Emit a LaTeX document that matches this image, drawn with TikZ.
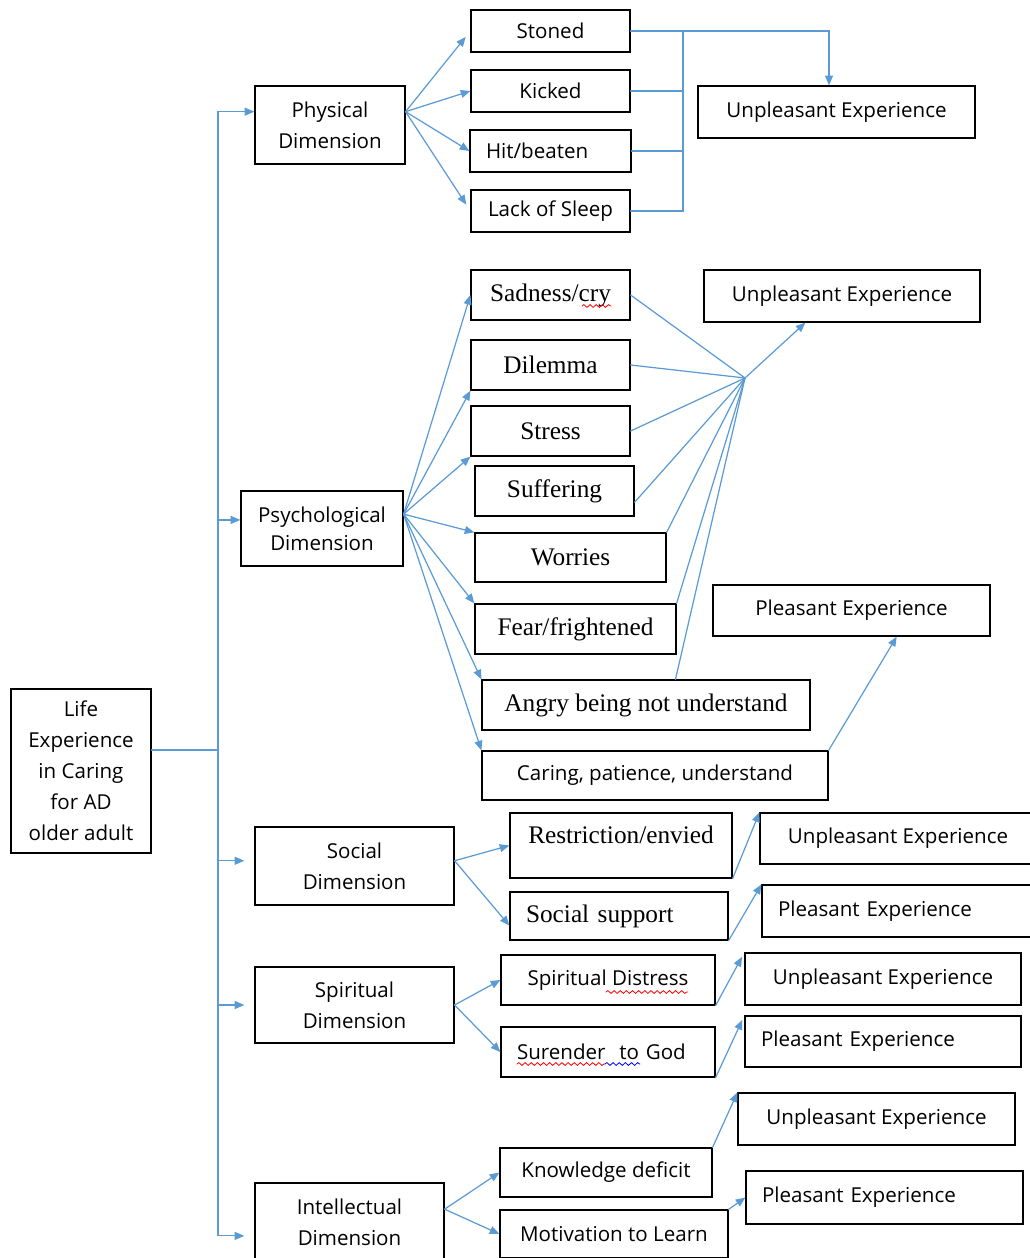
\documentclass[tikz,border=0pt]{standalone}
\usepackage{fontspec}
\usetikzlibrary{arrows.meta,decorations.pathmorphing}
\newfontfamily\boxsans{Open Sans}
\newfontfamily\boxserif{Liberation Serif}
\definecolor{linkblue}{HTML}{5B9BD5}

\begin{document}
\begin{tikzpicture}[x=0.02cm, y=-0.02cm, line cap=round,
  box/.style={draw, line width=0.7pt, inner sep=0pt, align=center,
    font=\boxsans\fontsize{11.7}{17.6}\selectfont},
  ser/.style={box, font=\boxserif\fontsize{14.4}{17}\selectfont},
  lft/.style={align=left, inner xsep=0.32cm, text width=#1},
  lnk/.style={linkblue, line width=0.7pt},
  arr/.style={lnk, -{Triangle[length=5.5pt,width=4.5pt]}},
  wavy/.style={decorate, decoration={snake, segment length=3.5pt, amplitude=0.8pt}, line width=0.45pt}]
\useasboundingbox (0,0) rectangle (1030,1258);
\clip (0,0) rectangle (1030,1258);
% root and dimensions
\node[box, minimum width=2.8cm, minimum height=3.28cm] (life) at (81,771)
  {Life\\Experience\\in Caring\\for AD\\older adult};
\node[box, minimum width=3cm, minimum height=1.56cm] (phys) at (330,125) {Physical\\Dimension};
\node[box, minimum width=3.24cm, minimum height=1.5cm,
  font=\boxsans\fontsize{11.7}{16}\selectfont] (psych) at (322,528.5) {Psychological\\Dimension};
\node[box, minimum width=3.98cm, minimum height=1.56cm] (social) at (354.5,866) {Social\\Dimension};
\node[box, minimum width=3.98cm, minimum height=1.52cm] (spir) at (354.5,1005) {Spiritual\\Dimension};
\node[box, minimum width=3.78cm, minimum height=1.58cm] (intel) at (349.5,1222.5) {Intellectual\\Dimension};
% trunk
\coordinate (tr) at (218,750);
\draw[lnk] (tr -| life.east) -- (tr);
\draw[arr] (tr) |- (phys.170);
\draw[arr] (tr) |- (psych.174);
\draw[arr, shorten >=0.2cm] (tr) |- (social.177);
\draw[arr, shorten >=0.2cm] (tr) |- (spir.west);
\draw[arr, shorten >=0.2cm] (tr) |- (intel.188);
% physical
\node[box, minimum width=3.18cm, minimum height=0.84cm] (stoned) at (550.5,31) {Stoned};
\node[box, minimum width=3.18cm, minimum height=0.84cm] (kicked) at (550.5,91) {Kicked};
\node[box, lft=2.58cm, minimum width=3.18cm, minimum height=0.84cm] (hit) at (550.5,151) {Hit/beaten};
\node[box, minimum width=3.18cm, minimum height=0.84cm] (lack) at (550.5,211) {Lack of Sleep};
\node[box, minimum width=5.54cm, minimum height=1.04cm] (unp1) at (836.5,112) {Unpleasant Experience};
\draw[arr, shorten >=0.15cm] (phys.10) -- (stoned.west);
\draw[arr] (phys.10) -- (kicked.west);
\draw[arr] (phys.10) -- (hit.west);
\draw[arr, shorten >=0.15cm] (phys.10) -- (lack.west);
\coordinate (jn) at (683,31);
\draw[lnk] (stoned.east) -- (jn);
\draw[lnk] (kicked.east) -- (kicked.east -| jn);
\draw[lnk] (hit.east) -- (hit.east -| jn);
\draw[lnk] (lack.east) -- (lack.east -| jn) -- (jn);
\draw[arr] (jn) -| ([xshift=-0.15cm]unp1.north);
% psychological
\node[ser, minimum width=3.18cm, minimum height=1cm] (sad) at (550.5,295) {Sadness/cry};
\node[ser, minimum width=3.18cm, minimum height=1cm] (dil) at (550.5,365) {Dilemma};
\node[ser, minimum width=3.18cm, minimum height=1cm] (stress) at (550.5,431) {Stress};
\node[ser, minimum width=3.18cm, minimum height=1cm] (suffer) at (554.5,491) {Suffering};
\node[ser, minimum width=3.82cm, minimum height=0.98cm] (worries) at (570.5,557.5) {Worries};
\node[ser, minimum width=4.02cm, minimum height=1cm] (fear) at (575.5,629) {Fear/frightened};
\node[ser, minimum width=6.56cm, minimum height=1cm] (angry) at (646,705) {Angry being not understand};
\node[box, minimum width=6.92cm, minimum height=0.98cm] (caring) at (655,775.5) {Caring, patience, understand};
\node[box, minimum width=5.52cm, minimum height=1.04cm] (unp2) at (842,296) {Unpleasant Experience};
\node[box, minimum width=5.54cm, minimum height=1.02cm] (pleas2) at (851.5,610.5) {Pleasant Experience};
\draw[wavy, red] ([shift={(31.5,11)}]sad.center) -- ++(29,0);
\draw[arr] (psych.10) -- (sad.west);
\draw[arr] (psych.10) -- (dil.south west);
\draw[arr] (psych.10) -- (stress.south west);
\draw[arr] (psych.10) -- (worries.north west);
\draw[arr] (psych.10) -- (fear.north west);
\draw[arr] (psych.10) -- (angry.north west);
\draw[arr] (psych.10) -- (caring.north west);
\coordinate (hub) at (745,378);
\draw[lnk] (sad.east) -- (hub);
\draw[lnk] (dil.east) -- (hub);
\draw[lnk] (stress.east) -- (hub);
\draw[lnk] (suffer.-8) -- (hub);
\draw[lnk] (worries.north east) -- (hub);
\draw[lnk] (fear.north east) -- (hub);
\draw[lnk] (angry.41) -- (hub);
\draw[arr] (hub) -- (unp2.216);
\draw[arr] (caring.north east) -- (pleas2.-30);
% social
\node[ser, minimum width=4.44cm, minimum height=1.3cm, text height=0.6cm, text depth=0.7cm]
  (restr) at (621,845.5) {Restriction/envied};
\node[ser, lft=3.72cm, minimum width=4.36cm, minimum height=0.96cm] (supp) at (619,916) {Social support};
\node[box, minimum width=5.52cm, minimum height=1.02cm] (unp3) at (898,838.5) {Unpleasant Experience};
\node[box, lft=4.88cm, minimum width=5.52cm, minimum height=1.04cm] (pleas3) at (900,911) {Pleasant Experience};
\draw[arr] (social.3) -- (restr.west);
\draw[arr] (social.3) -- (supp.185);
\draw[arr] (restr.south east) -- (unp3.north west);
\draw[arr] (supp.south east) -- (pleas3.north west);
% spiritual
\node[box, minimum width=4.28cm, minimum height=1cm] (distress) at (608,980) {Spiritual Distress};
\node[box, lft=3.64cm, minimum width=4.28cm, minimum height=1cm] (surr) at (608,1052) {Surender\ \ to God};
\node[box, minimum width=5.52cm, minimum height=1.04cm] (unp4) at (883,979) {Unpleasant Experience};
\node[box, lft=4.88cm, minimum width=5.52cm, minimum height=1.02cm] (pleas4) at (883,1041.5) {Pleasant Experience};
\draw[wavy, red] ([shift={(-2,12)}]distress.center) -- ++(82,0);
\draw[wavy, red] ([shift={(-91,12)}]surr.center) -- ++(88,0);
\draw[wavy, blue] ([shift={(-3,12)}]surr.center) -- ++(35,0);
\draw[arr] (spir.east) -- (distress.west);
\draw[arr] (spir.east) -- (surr.west);
\draw[arr, shorten >=0.1cm] (distress.south east) -- (unp4.north west);
\draw[arr, shorten >=0.1cm] (surr.south east) -- (pleas4.north west);
% intellectual
\node[box, minimum width=4.24cm, minimum height=0.98cm] (know) at (606,1172.5) {Knowledge deficit};
\node[box, minimum width=4.56cm, minimum height=0.96cm] (motiv) at (614,1234) {Motivation to Learn};
\node[box, minimum width=5.54cm, minimum height=1.04cm] (unp5) at (876.5,1119) {Unpleasant Experience};
\node[box, lft=4.9cm, minimum width=5.54cm, minimum height=1.06cm] (pleas5) at (884.5,1197.5) {Pleasant Experience};
\draw[arr] (intel.8) -- (know.west);
\draw[arr] (intel.8) -- (motiv.west);
\draw[arr] (know.north east) -- (unp5.north west);
\draw[arr] (motiv.north east) -- (pleas5.west);
\end{tikzpicture}
\end{document}
